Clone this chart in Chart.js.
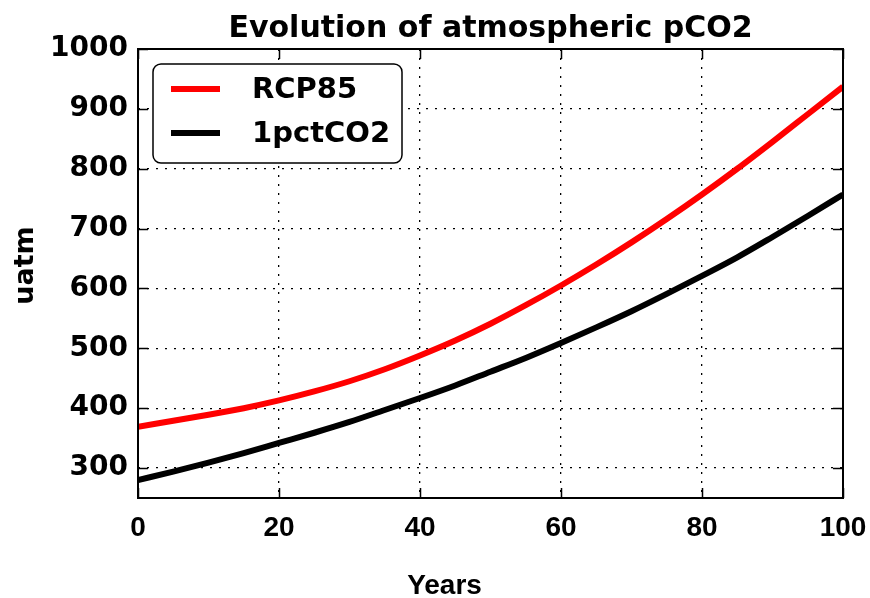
<!DOCTYPE html>
<html>
<head>
<meta charset="utf-8">
<script src="https://cdn.jsdelivr.net/npm/chart.js@4/dist/chart.umd.min.js"></script>
<style>
  html, body { margin: 0; padding: 0; background: #fff; }
  #wrap { width: 870px; height: 598px; }
</style>
</head>
<body>
<div id="wrap"><canvas id="grafico" width="870" height="598"></canvas></div>
<script>
// data (years since start, pCO2 in uatm)
const years = [0, 5, 10, 15, 20, 25, 30, 35, 40, 45, 50, 55, 60, 65, 70, 75, 80, 85, 90, 95, 100];
const rcp85 = [369, 379, 389, 400, 413, 428, 445, 465, 488, 513, 541, 572, 605, 640, 677, 716, 757, 800, 845, 891, 937];
const pct1 = [280, 294, 309, 325, 342, 359, 377, 397, 417, 438, 461, 484, 509, 535, 562, 591, 621, 652, 686, 721, 757];
const xTicks = [0, 20, 40, 60, 80, 100];
const yTicks = [300, 400, 500, 600, 700, 800, 900, 1000];

const titulo = 'Evolution of atmospheric pCO2';
const tituloX = 'Years';
const tituloY = 'uatm';

// frame, inward ticks, legend and titles, drawn like matplotlib
const decoracao = {
  id: 'decoracao',
  afterDraw(chart) {
    const ctx = chart.ctx;
    const a = chart.chartArea;
    const sx = chart.scales.x;
    const sy = chart.scales.y;
    ctx.save();

    // tick marks pointing inwards on all four sides
    ctx.strokeStyle = '#000';
    ctx.lineWidth = 1.5;
    ctx.beginPath();
    xTicks.forEach(v => {
      const px = Math.round(sx.getPixelForValue(v)) + 0.5;
      ctx.moveTo(px, a.bottom); ctx.lineTo(px, a.bottom - 10);
      ctx.moveTo(px, a.top); ctx.lineTo(px, a.top + 10);
    });
    yTicks.forEach(v => {
      const py = Math.round(sy.getPixelForValue(v)) + 0.5;
      ctx.moveTo(a.left, py); ctx.lineTo(a.left + 10, py);
      ctx.moveTo(a.right, py); ctx.lineTo(a.right - 10, py);
    });
    ctx.stroke();

    // frame
    ctx.lineWidth = 2;
    ctx.strokeRect(a.left, a.top, a.right - a.left, a.bottom - a.top);

    // legend box
    const bx = a.left + 15, by = a.top + 15, bw = 249, bh = 99, r = 8;
    ctx.beginPath();
    ctx.moveTo(bx + r, by);
    ctx.arcTo(bx + bw, by, bx + bw, by + bh, r);
    ctx.arcTo(bx + bw, by + bh, bx, by + bh, r);
    ctx.arcTo(bx, by + bh, bx, by, r);
    ctx.arcTo(bx, by, bx + bw, by, r);
    ctx.closePath();
    ctx.fillStyle = '#fff';
    ctx.fill();
    ctx.lineWidth = 1.5;
    ctx.strokeStyle = '#000';
    ctx.stroke();

    ctx.font = 'bold 29px "DejaVu Sans"';
    ctx.textAlign = 'left';
    ctx.textBaseline = 'middle';
    chart.data.datasets.forEach((ds, i) => {
      const ly = by + 25 + i * 44;
      ctx.strokeStyle = ds.borderColor;
      ctx.lineWidth = 6;
      ctx.beginPath();
      ctx.moveTo(bx + 18, ly);
      ctx.lineTo(bx + 67, ly);
      ctx.stroke();
      ctx.fillStyle = '#000';
      ctx.fillText(ds.label, bx + 99, ly + 1);
    });

    // chart title
    ctx.fillStyle = '#000';
    ctx.font = 'bold 30px "DejaVu Sans"';
    ctx.textAlign = 'center';
    ctx.textBaseline = 'alphabetic';
    ctx.fillText(titulo, (a.left + a.right) / 2, 37);

    // axis titles
    ctx.font = 'bold 28px "Liberation Sans"';
    ctx.fillText(tituloX, (a.left + a.right) / 2 - 46, 594);

    ctx.save();
    ctx.translate(33, (a.top + a.bottom) / 2 - 8);
    ctx.rotate(-Math.PI / 2);
    ctx.font = 'bold 27px "DejaVu Sans"';
    ctx.fillText(tituloY, 0, 0);
    ctx.restore();

    ctx.restore();
  }
};

const ctx = document.getElementById('grafico').getContext('2d');

new Chart(ctx, {
  type: 'line',
  data: {
    datasets: [
      {
        label: 'RCP85',
        data: years.map((x, i) => ({ x: x, y: rcp85[i] })),
        borderColor: '#ff0000',
        borderWidth: 6,
        pointRadius: 0,
        cubicInterpolationMode: 'monotone',
        fill: false
      },
      {
        label: '1pctCO2',
        data: years.map((x, i) => ({ x: x, y: pct1[i] })),
        borderColor: '#000000',
        borderWidth: 6,
        pointRadius: 0,
        cubicInterpolationMode: 'monotone',
        fill: false
      }
    ]
  },
  options: {
    responsive: false,
    animation: false,
    layout: { padding: { top: 49, right: 27, left: 0, bottom: 0 } },
    plugins: {
      legend: { display: false },
      title: { display: false },
      tooltip: { enabled: false }
    },
    scales: {
      x: {
        type: 'linear',
        min: 0,
        max: 100,
        afterBuildTicks: s => { s.ticks = xTicks.map(v => ({ value: v })); },
        afterFit: s => { s.height = 100; s.paddingLeft = 0; s.paddingRight = 0; },
        ticks: {
          color: '#000',
          font: { family: 'Liberation Sans', size: 28, weight: 'bold' },
          padding: 13,
          maxRotation: 0,
          callback: v => String(v)
        },
        grid: { color: '#000', lineWidth: 1.3, drawTicks: false },
        border: { display: false, dash: [2, 7] }
      },
      y: {
        type: 'linear',
        min: 250,
        max: 1000,
        afterBuildTicks: s => { s.ticks = yTicks.map(v => ({ value: v })); },
        afterFit: s => { s.width = 138; s.paddingTop = 0; s.paddingBottom = 0; },
        ticks: {
          color: '#000',
          font: { family: 'DejaVu Sans', size: 28, weight: 'bold' },
          padding: 10,
          callback: v => String(v)
        },
        grid: { color: '#000', lineWidth: 1.3, drawTicks: false },
        border: { display: false, dash: [2, 7] }
      }
    }
  },
  plugins: [decoracao]
});
</script>
</body>
</html>
